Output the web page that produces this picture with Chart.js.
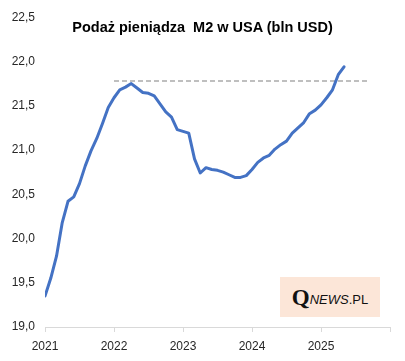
<!DOCTYPE html>
<html>
<head>
<meta charset="utf-8">
<script src="https://cdn.jsdelivr.net/npm/chart.js@4.4.0/dist/chart.umd.min.js"></script>
<style>
  html, body { margin: 0; padding: 0; background: #ffffff; }
  #wrap { position: relative; width: 405px; height: 361px; overflow: hidden; }
  #title {
    position: absolute; left: 0; width: 405px; top: 18px; text-align: center;
    font-family: "Liberation Sans", Arial, sans-serif; font-weight: bold; font-size: 14.5px;
    color: #000; white-space: pre; line-height: 18px;
  }
  #logo {
    position: absolute; left: 280px; top: 277px; width: 100px; height: 40px;
    background: #FCE6D8; display: flex; align-items: center; justify-content: center;
    white-space: pre; color: #111;
  }
  #logo .q { font-family: "Liberation Serif", "DejaVu Serif", serif; font-size: 23px; font-weight: bold; line-height: 1; }
  #logo .n { font-family: "Liberation Sans", Arial, sans-serif; font-size: 13px; font-style: italic; line-height: 1; margin-top: 5px; }
  #logo .p { font-family: "Liberation Sans", Arial, sans-serif; font-size: 13px; line-height: 1; margin-top: 5px; }
</style>
</head>
<body>
<div id="wrap">
  <canvas id="c" width="405" height="361"></canvas>
  <div id="title">Podaż pieniądza  M2 w USA (bln USD)</div>
  <div id="logo"><span class="q">Q</span><span class="n">NEWS</span><span class="p">.PL</span></div>
</div>
<script>
const months = [
  "2021-01","2021-02","2021-03","2021-04","2021-05","2021-06","2021-07","2021-08","2021-09","2021-10","2021-11","2021-12",
  "2022-01","2022-02","2022-03","2022-04","2022-05","2022-06","2022-07","2022-08","2022-09","2022-10","2022-11","2022-12",
  "2023-01","2023-02","2023-03","2023-04","2023-05","2023-06","2023-07","2023-08","2023-09","2023-10","2023-11","2023-12",
  "2024-01","2024-02","2024-03","2024-04","2024-05","2024-06","2024-07","2024-08","2024-09","2024-10","2024-11","2024-12",
  "2025-01","2025-02","2025-03","2025-04","2025-05"
];
const m2Values = [
  19.35, 19.55, 19.80, 20.18, 20.42, 20.47, 20.62, 20.82, 20.99, 21.13, 21.30, 21.48,
  21.59, 21.68, 21.71, 21.75, 21.70, 21.65, 21.64, 21.61, 21.52, 21.43, 21.37, 21.23,
  21.21, 21.19, 20.90, 20.74, 20.80, 20.78, 20.77, 20.75, 20.72, 20.69, 20.69, 20.71,
  20.78, 20.86, 20.91, 20.94, 21.01, 21.06, 21.10, 21.19, 21.25, 21.31, 21.41, 21.45,
  21.51, 21.59, 21.68, 21.85, 21.94
];
const refLevel = 21.78;
const refRange = ["2022-01", "2025-09"];
const yearTicks = [2021, 2022, 2023, 2024, 2025, 2026];
const yearLabels = ["2021", "2022", "2023", "2024", "2025", ""];
const yTickValues = [19.0, 19.5, 20.0, 20.5, 21.0, 21.5, 22.0, 22.5];

function monthToX(m) {
  const [y, mo] = m.split("-").map(Number);
  return y + (mo - 1) / 12;
}

const seriesData = months.map((m, i) => ({ x: monthToX(m), y: m2Values[i] }));
const refData = refRange.map(m => ({ x: monthToX(m), y: refLevel }));

const tickFont = { family: "'Liberation Sans', Arial, sans-serif", size: 12 };

new Chart(document.getElementById("c"), {
  type: "line",
  data: {
    datasets: [
      {
        data: seriesData,
        borderColor: "#4472C4",
        borderWidth: 3,
        pointRadius: 0,
        tension: 0,
        borderJoinStyle: "round",
        borderCapStyle: "round",
        fill: false
      },
      {
        data: refData,
        borderColor: "#BFBFBF",
        borderWidth: 2,
        borderDash: [5, 3],
        pointRadius: 0,
        tension: 0,
        fill: false
      }
    ]
  },
  options: {
    responsive: false,
    devicePixelRatio: 1,
    animation: false,
    layout: { padding: { top: 15, right: 15, left: 0, bottom: 0 } },
    plugins: { legend: { display: false }, tooltip: { enabled: false }, title: { display: false } },
    scales: {
      x: {
        type: "linear",
        min: yearTicks[0],
        max: yearTicks[yearTicks.length - 1],
        afterBuildTicks: (s) => { s.ticks = yearTicks.map(v => ({ value: v })); },
        afterFit: (s) => { s.height = 34; },
        ticks: {
          font: tickFont,
          color: "#262626",
          padding: 7,
          maxRotation: 0,
          autoSkip: false,
          callback: (v) => yearLabels[yearTicks.indexOf(v)] ?? ""
        },
        grid: { drawOnChartArea: false, color: "#D9D9D9", tickLength: 5, lineWidth: 1 },
        border: { color: "#D9D9D9", width: 1 }
      },
      y: {
        min: yTickValues[0],
        max: yTickValues[yTickValues.length - 1],
        afterBuildTicks: (s) => { s.ticks = yTickValues.map(v => ({ value: v })); },
        afterFit: (s) => { s.width = 45; },
        ticks: {
          font: tickFont,
          color: "#262626",
          padding: 10,
          callback: (v) => Number(v).toFixed(1).replace(".", ",")
        },
        grid: { display: false, drawTicks: false },
        border: { display: false }
      }
    }
  }
});
</script>
</body>
</html>
